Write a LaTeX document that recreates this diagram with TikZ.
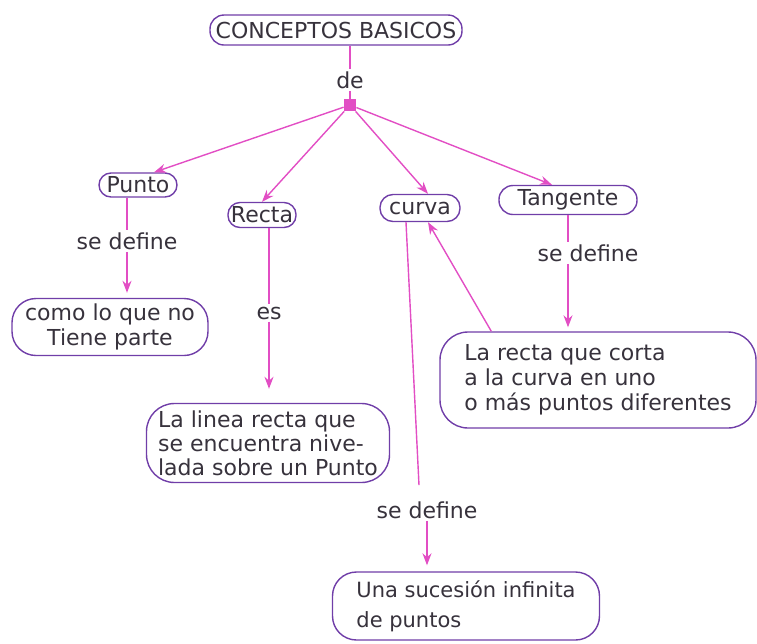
\documentclass[tikz,border=0pt]{standalone}
\usepackage{fontspec}
\setmainfont{DejaVu Sans}
\definecolor{mapmagenta}{RGB}{226,78,196}
\definecolor{mappurple}{RGB}{112,62,168}
\definecolor{mapink}{RGB}{55,50,60}
\usetikzlibrary{arrows.meta,calc}

\begin{document}
\begin{tikzpicture}[x=0.5pt,y=-0.5pt,
	concept/.style={draw=mappurple,line width=0.7pt,inner sep=1pt,text=mapink,font=\fontsize{11}{12.5}\selectfont},
	linkword/.style={text=mapink,font=\fontsize{11}{13}\selectfont,inner sep=1pt},
	link/.style={draw=mapmagenta,line width=0.7pt},
	linkarrow/.style={link,-{Stealth[length=6pt,width=4.5pt]}}]
			\useasboundingbox (0,0) rectangle (757,644);
			\node[concept,minimum width=126pt,minimum height=15pt,rounded corners=7pt] (base) at (336,30) {CONCEPTOS BASICOS};
			\node[linkword] (de) at (350,80) {de};
			\node[fill=mapmagenta,minimum size=6pt,inner sep=0pt] (hub) at (350,105) {};
			\node[concept,minimum width=39pt,minimum height=12pt,rounded corners=6pt] (punto) at (138,185) {Punto};
			\node[concept,minimum width=34pt,minimum height=12.5pt,rounded corners=6pt] (recta) at (262,215) {Recta};
			\node[concept,minimum width=40pt,minimum height=13.5pt,rounded corners=6.5pt] (curva) at (420,208) {curva};
			\node[concept,minimum width=69pt,minimum height=14.5pt,rounded corners=7pt] (tangente) at (568,200) {Tangente};
			\node[linkword] (sdp) at (127,241) {se define};
			\node[linkword] (es) at (269,313) {es};
			\node[linkword] (sdc) at (427,510) {se define};
			\node[linkword] (sdt) at (588,253) {se define};
			\node[concept,align=center,minimum width=98pt,minimum height=28.5pt,rounded corners=12pt] (como) at (110,327) {como lo que no\\Tiene parte};
			\node[concept,align=left,minimum width=121.5pt,minimum height=39.5pt,rounded corners=14pt,font=\fontsize{11}{12}\selectfont] (linea) at (268,443) {La linea recta que\\se encuentra nive-\\lada sobre un Punto};
			\node[concept,align=left,minimum width=158pt,minimum height=48pt,rounded corners=14pt] (corta) at (598,380) {La recta que corta\\a la curva en uno\\o más puntos diferentes};
			\node[concept,align=left,minimum width=133.5pt,minimum height=34pt,rounded corners=12pt,font=\fontsize{10.5}{15}\selectfont] (sucesion) at (466,606) {Una sucesión infinita\\de puntos};
			\draw[link] (de.north |- base.south) -- (de.north);
			\draw[link] (de.south) -- (hub);
			\draw[linkarrow] (hub) -- ([xshift=8pt]punto.north);
			\draw[linkarrow] (hub) -- (recta.north);
			\draw[linkarrow] (hub) -- ([xshift=4pt]curva.north);
			\draw[linkarrow] (hub) -- ([xshift=-8pt]tangente.north);
			\draw[link] (punto.south -| sdp.north) -- (sdp.north);
			\draw[linkarrow,shorten >=2.5pt] (sdp.south) -- (sdp.south |- como.north);
			\draw[link] (recta.south -| es.north) -- (es.north);
			\draw[linkarrow,shorten >=7pt] (es.south) -- (es.south |- linea.north);
			\draw[link] ([xshift=-7pt]curva.south) -- ([xshift=-4pt,yshift=7pt]sdc.north);
			\draw[linkarrow,shorten >=3pt] (sdc.south) -- (sdc.south |- sucesion.north);
			\draw[link] (tangente.south) -- (tangente.south |- sdt.north);
			\draw[linkarrow,shorten >=2pt] (tangente.south |- sdt.south) -- (tangente.south |- corta.north);
			\draw[linkarrow] ([xshift=26pt]corta.north west) -- ([xshift=4pt]curva.south);
		\end{tikzpicture}
\end{document}
